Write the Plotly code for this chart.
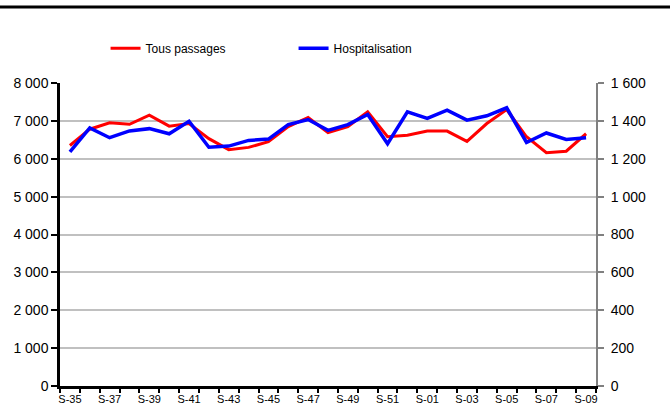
import plotly.graph_objects as go

weeks = ["S-35", "S-36", "S-37", "S-38", "S-39", "S-40", "S-41", "S-42", "S-43",
         "S-44", "S-45", "S-46", "S-47", "S-48", "S-49", "S-50", "S-51", "S-52",
         "S-01", "S-02", "S-03", "S-04", "S-05", "S-06", "S-07", "S-08", "S-09"]
tous_passages = [6350, 6780, 6950, 6910, 7150, 6860, 6930, 6530, 6240,
                 6300, 6450, 6850, 7090, 6690, 6850, 7240, 6580, 6620,
                 6730, 6730, 6460, 6930, 7300, 6580, 6160, 6200, 6660]
hospitalisation = [1236, 1363, 1311, 1347, 1359, 1332, 1398, 1261, 1267,
                   1297, 1304, 1380, 1407, 1350, 1380, 1434, 1279, 1448,
                   1413, 1457, 1404, 1427, 1469, 1286, 1336, 1302, 1311]

left_ticks = list(range(0, 8001, 1000))
right_ticks = list(range(0, 1601, 200))

xidx = list(range(len(weeks)))
font = "Arial, Liberation Sans, sans-serif"

fig = go.Figure()
fig.add_trace(go.Scatter(x=xidx, y=tous_passages, name="Tous passages", mode="lines",
                         line=dict(color="#ff0000", width=3)))
fig.add_trace(go.Scatter(x=xidx, y=hospitalisation, name="Hospitalisation", mode="lines",
                         line=dict(color="#0000ff", width=3.5), yaxis="y2"))

fig.update_layout(
    width=670, height=407,
    margin=dict(l=60, r=74, t=83, b=21, autoexpand=False),
    paper_bgcolor="white", plot_bgcolor="white",
    separators=", ",
    font=dict(family=font, color="black", size=12),
    showlegend=True,
    legend=dict(orientation="h", x=0.085, y=1.115, xanchor="left", yanchor="middle",
                font=dict(size=12, family=font), entrywidth=143, entrywidthmode="pixels",
                itemwidth=30, bgcolor="rgba(0,0,0,0)"),
    xaxis=dict(range=[-0.5, len(weeks) - 0.5], tickvals=xidx[::2], ticktext=weeks[::2],
               ticks="", showgrid=False, zeroline=False,
               showline=True, linecolor="black", linewidth=2.5,
               tickfont=dict(size=11), ticklabelstandoff=1,
               minor=dict(tickvals=[i - 0.5 for i in range(len(weeks) + 1)],
                          ticks="outside", ticklen=4, tickwidth=2, tickcolor="black")),
    yaxis=dict(range=[0, 8000], tickvals=left_ticks, tickformat=",",
               showgrid=True, gridcolor="#c0c0c0", gridwidth=2, zeroline=False,
               showline=True, linecolor="black", linewidth=2.5,
               ticks="outside", ticklen=6, tickwidth=2, tickcolor="black",
               tickfont=dict(size=14)),
    yaxis2=dict(range=[0, 1600], tickvals=right_ticks, tickformat=",",
                overlaying="y", side="right", showgrid=False, zeroline=False,
                showline=True, linecolor="#808080", linewidth=2,
                ticks="outside", ticklen=6, tickwidth=2, tickcolor="#808080",
                tickfont=dict(size=14), ticklabelstandoff=4),
    shapes=[dict(type="line", xref="paper", yref="paper",
                 x0=-0.12, x1=1.15, y0=(386 - 7) / 303, y1=(386 - 7) / 303,
                 line=dict(color="black", width=3))],
)

fig.write_html("out.html")
